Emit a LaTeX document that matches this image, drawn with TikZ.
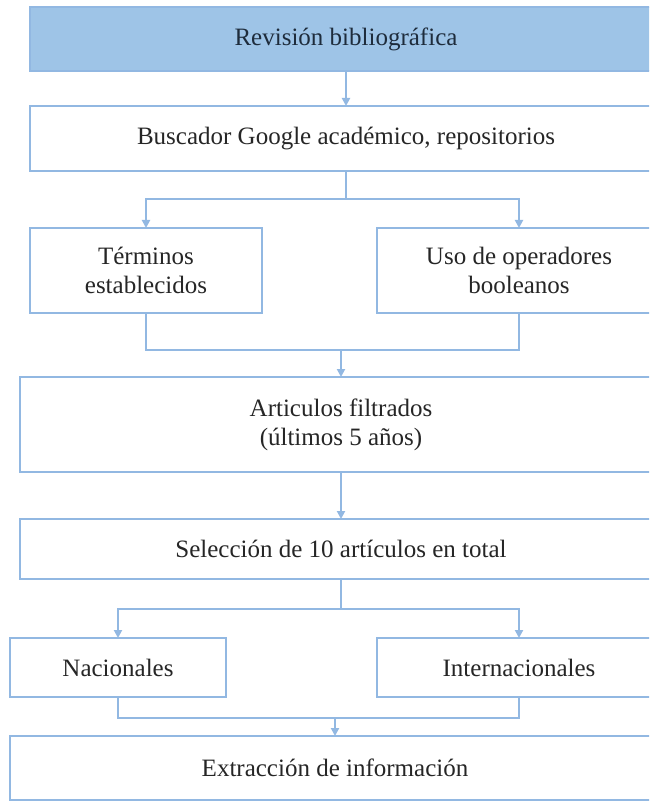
\documentclass[tikz,border=0pt]{standalone}
\usepackage{fontspec}
\setmainfont{Liberation Serif}
\usetikzlibrary{arrows.meta}
\definecolor{edgeblue}{RGB}{146,184,226}
\definecolor{fillblue}{RGB}{158,196,231}
\definecolor{txt}{RGB}{38,38,38}
\definecolor{toptxt}{RGB}{30,44,60}
\tikzset{
  box/.style={draw=edgeblue, line width=2pt, rectangle, inner sep=0pt, align=center,
    font=\fontsize{25}{29}\selectfont, text=txt},
  conn/.style={draw=edgeblue, line width=2pt},
  arr/.style={conn, -{Triangle[length=8pt,width=8pt]}, shorten >=-1pt}
}
\begin{document}
\begin{tikzpicture}[x=1pt,y=-1pt]
\useasboundingbox (0,0) rectangle (649,802);
\clip (0,0) rectangle (649,802);
\fill[white] (0,0) rectangle (649,802);
% boxes
\node[box, fill=fillblue, text=toptxt, minimum width=632pt, minimum height=64pt] (b1) at (346,39) {Revisión bibliográfica};
\node[box, minimum width=632pt, minimum height=65pt] (b2) at (346,138.5) {Buscador Google académico, repositorios};
\node[box, minimum width=232pt, minimum height=85pt] (b3l) at (146,270.5) {Términos\\establecidos};
\node[box, minimum width=284pt, minimum height=85pt] (b3r) at (519,270.5) {Uso de operadores\\booleanos};
\node[box, minimum width=642pt, minimum height=95pt] (b4) at (341,424.5) {Articulos filtrados\\(últimos 5 años)};
\node[box, minimum width=642pt, minimum height=60pt] (b5) at (341,549) {Selección de 10 artículos en total};
\node[box, minimum width=216pt, minimum height=59pt] (b6l) at (118,667.5) {Nacionales};
\node[box, minimum width=284pt, minimum height=59pt] (b6r) at (519,667.5) {Internacionales};
\node[box, minimum width=650pt, minimum height=64pt] (b7) at (335,768) {Extracción de información};
% junction levels
\coordinate (sp1) at (0,199);
\coordinate (jn1) at (0,350);
\coordinate (sp2) at (0,609);
\coordinate (jn2) at (0,718);
% connectors
\draw[arr] (b1.south) -- (b2.north);
\draw[conn] (b2.south) -- (b2.south |- sp1);
\draw[arr] (b2.south |- sp1) -| (b3l.north);
\draw[arr] (b2.south |- sp1) -| (b3r.north);
\draw[conn] (b3l.south) |- (b3r.south |- jn1) -- (b3r.south);
\draw[arr] (b4.north |- jn1) -- (b4.north);
\draw[arr] (b4.south) -- (b5.north);
\draw[conn] (b5.south) -- (b5.south |- sp2);
\draw[arr] (b5.south |- sp2) -| (b6l.north);
\draw[arr] (b5.south |- sp2) -| (b6r.north);
\draw[conn] (b6l.south) |- (b6r.south |- jn2) -- (b6r.south);
\draw[arr] (b7.north |- jn2) -- (b7.north);
\end{tikzpicture}
\end{document}
